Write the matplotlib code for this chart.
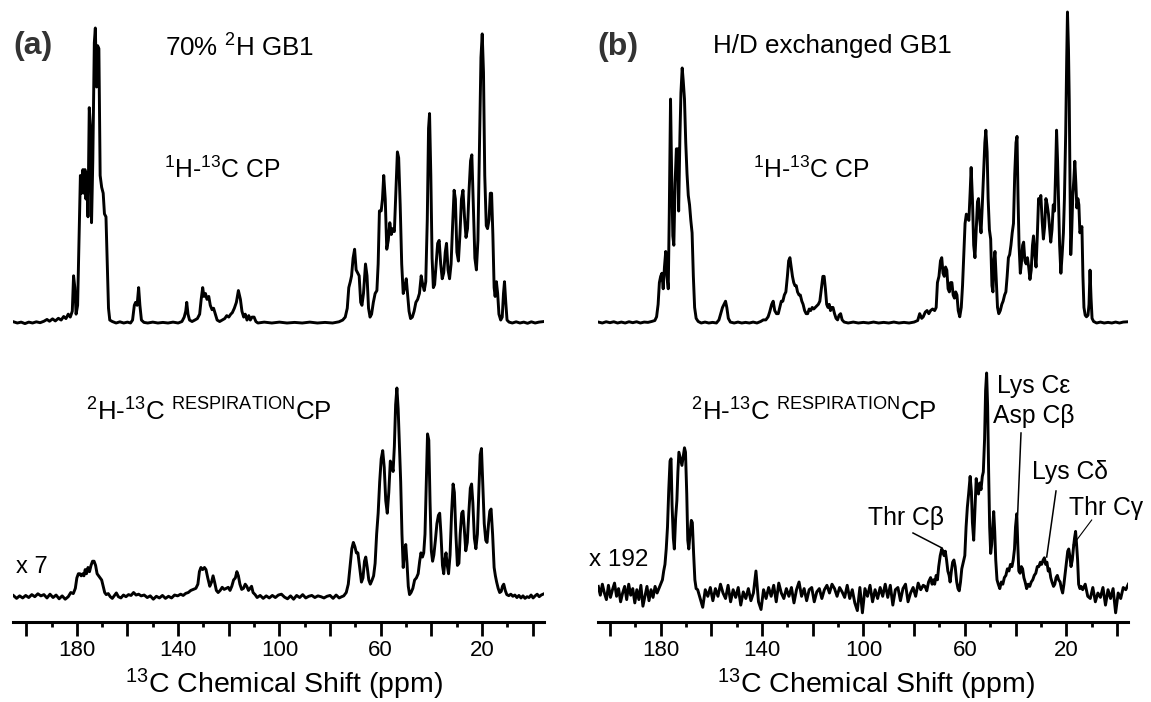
import numpy as np
import matplotlib
matplotlib.use("Agg")
import matplotlib.pyplot as plt
from matplotlib.lines import Line2D
from matplotlib.ticker import FixedLocator, FuncFormatter

# Spectra as (ppm, relative intensity) vertices.
# Intensities are normalised to the tallest peak of each trace.

a_top = [
    (205.0, 0.004), (203.5, 0.0), (202.0, 0.003), (200.5, -0.002), (199.0, 0.003), (197.5, 0.0),
    (196.0, 0.004), (194.5, 0.001), (193.0, 0.006), (191.8, 0.012), (190.8, 0.006), (189.6, 0.014),
    (188.5, 0.007), (187.3, 0.016), (186.2, 0.01), (185.2, 0.022), (184.3, 0.015), (183.4, 0.03),
    (182.6, 0.02), (181.8, 0.04), (181.3, 0.16), (180.8, 0.12), (180.3, 0.03), (179.7, 0.06),
    (179.1, 0.30), (178.6, 0.50), (178.1, 0.44), (177.6, 0.52), (177.2, 0.44), (176.8, 0.52),
    (176.4, 0.42), (176.0, 0.51), (175.6, 0.36), (175.1, 0.73), (174.6, 0.66), (174.2, 0.34),
    (173.7, 0.55), (173.1, 0.95), (172.7, 1.00), (172.2, 0.80), (171.8, 0.94), (171.3, 0.93),
    (170.8, 0.50), (170.2, 0.46), (169.6, 0.44), (169.1, 0.37), (168.5, 0.36), (168.0, 0.20),
    (167.5, 0.05), (167.0, 0.01), (166.0, 0.005), (164.5, 0.0), (163.0, 0.004), (161.5, 0.0),
    (160.0, 0.003), (158.8, 0.0), (158.0, 0.01), (157.3, 0.06), (156.8, 0.07), (156.2, 0.06),
    (155.6, 0.12), (155.1, 0.06), (154.5, 0.01), (153.5, 0.002), (152.0, 0.0), (150.0, 0.003),
    (148.0, 0.0), (146.0, 0.002), (144.0, 0.0), (142.0, 0.003), (140.0, 0.0), (138.5, 0.005),
    (137.6, 0.02), (137.0, 0.04), (136.6, 0.07), (136.1, 0.03), (135.5, 0.01), (134.5, 0.005),
    (133.4, 0.01), (132.4, 0.015), (131.5, 0.03), (130.9, 0.08), (130.3, 0.12), (129.8, 0.09),
    (129.2, 0.10), (128.6, 0.08), (127.9, 0.09), (127.3, 0.06), (126.6, 0.045), (126.0, 0.05),
    (125.3, 0.03), (124.6, 0.01), (123.6, 0.005), (122.6, 0.01), (121.6, 0.015), (120.8, 0.025),
    (120.0, 0.02), (119.2, 0.03), (118.6, 0.035), (117.8, 0.05), (117.0, 0.07), (116.2, 0.11),
    (115.4, 0.08), (114.8, 0.04), (114.1, 0.02), (113.5, 0.03), (112.8, 0.01), (112.1, 0.025),
    (111.5, 0.01), (110.8, 0.02), (110.0, 0.02), (109.3, 0.005), (108.5, 0.0), (106.0, 0.003),
    (103.0, 0.0), (100.0, 0.003), (97.0, 0.0), (94.0, 0.002), (91.0, 0.0), (88.0, 0.003),
    (85.0, 0.0), (82.0, 0.002), (79.0, 0.0), (76.5, 0.004), (75.0, 0.01), (74.0, 0.02),
    (73.2, 0.05), (72.6, 0.12), (72.0, 0.14), (71.5, 0.16), (70.9, 0.22), (70.3, 0.25),
    (69.7, 0.18), (69.1, 0.17), (68.5, 0.16), (67.9, 0.07), (67.4, 0.06), (66.8, 0.10),
    (66.0, 0.20), (65.4, 0.16), (64.8, 0.05), (64.2, 0.02), (63.6, 0.03), (62.9, 0.07),
    (62.2, 0.10), (61.5, 0.11), (61.0, 0.20), (60.5, 0.38), (59.8, 0.38), (59.3, 0.42),
    (58.8, 0.50), (58.2, 0.42), (57.6, 0.25), (57.0, 0.28), (56.4, 0.34), (55.8, 0.30),
    (55.2, 0.32), (54.6, 0.31), (54.0, 0.45), (53.4, 0.58), (52.9, 0.56), (52.3, 0.40),
    (51.7, 0.20), (51.1, 0.10), (50.5, 0.12), (49.9, 0.15), (49.4, 0.10), (48.8, 0.04),
    (48.2, 0.015), (47.5, 0.02), (46.8, 0.04), (46.1, 0.07), (45.4, 0.08), (44.7, 0.10),
    (44.0, 0.16), (43.4, 0.13), (42.8, 0.11), (42.2, 0.14), (41.6, 0.35), (41.1, 0.66),
    (40.7, 0.71), (40.2, 0.50), (39.7, 0.22), (39.2, 0.12), (38.7, 0.13), (38.1, 0.20),
    (37.5, 0.27), (36.9, 0.28), (36.3, 0.20), (35.7, 0.15), (35.1, 0.17), (34.5, 0.24),
    (34.0, 0.27), (33.4, 0.18), (32.8, 0.15), (32.2, 0.20), (31.6, 0.33), (31.0, 0.45),
    (30.5, 0.42), (29.9, 0.24), (29.3, 0.21), (28.7, 0.30), (28.1, 0.42), (27.5, 0.45),
    (26.9, 0.36), (26.3, 0.29), (25.7, 0.32), (25.1, 0.45), (24.5, 0.55), (24.0, 0.57),
    (23.4, 0.40), (22.8, 0.22), (22.2, 0.18), (21.6, 0.28), (21.0, 0.60), (20.4, 0.90),
    (19.9, 0.98), (19.4, 0.85), (18.9, 0.50), (18.3, 0.33), (17.8, 0.32), (17.2, 0.35),
    (16.7, 0.44), (16.2, 0.44), (15.7, 0.30), (15.2, 0.12), (14.8, 0.09), (14.3, 0.14),
    (13.8, 0.10), (13.3, 0.03), (12.6, 0.01), (12.0, 0.02), (11.5, 0.10), (11.1, 0.14),
    (10.6, 0.07), (10.1, 0.01), (9.3, 0.003), (8.0, 0.0), (6.5, 0.004), (5.0, 0.0),
    (3.5, 0.003), (2.0, -0.001), (0.5, 0.004), (-1.0, 0.0), (-2.5, 0.003), (-4.5, 0.005),
]

a_bottom = [
    (205.0, 0.005), (203.8, -0.008), (202.6, 0.004), (201.4, -0.006), (200.2, 0.006), (199.0, -0.004),
    (197.8, 0.01), (196.6, 0.0), (195.4, 0.014), (194.2, 0.004), (193.0, 0.01), (191.8, -0.006),
    (190.6, 0.012), (189.4, -0.004), (188.2, 0.008), (187.0, -0.01), (185.8, 0.004), (184.6, -0.012),
    (183.4, 0.0), (182.4, 0.02), (181.4, 0.015), (180.6, 0.04), (180.0, 0.09), (179.4, 0.11),
    (178.8, 0.11), (178.3, 0.10), (177.7, 0.11), (177.2, 0.10), (176.7, 0.13), (176.2, 0.11),
    (175.6, 0.14), (175.0, 0.12), (174.4, 0.15), (173.8, 0.17), (173.2, 0.17), (172.6, 0.15),
    (172.0, 0.11), (171.4, 0.10), (170.8, 0.09), (170.2, 0.08), (169.6, 0.05), (169.0, 0.02),
    (168.4, 0.01), (167.6, 0.015), (166.8, 0.0), (166.0, -0.008), (165.2, 0.005), (164.4, 0.018),
    (163.6, 0.0), (162.6, -0.006), (161.6, 0.008), (160.6, 0.0), (159.6, 0.01), (158.6, 0.006),
    (157.6, 0.02), (156.6, 0.008), (155.6, 0.012), (154.6, 0.004), (153.4, 0.008), (152.2, -0.004),
    (151.0, 0.004), (149.8, -0.012), (148.6, 0.002), (147.4, -0.006), (146.2, 0.006), (145.0, -0.008),
    (143.8, 0.002), (142.6, -0.006), (141.4, 0.008), (140.2, 0.004), (139.0, 0.012), (138.0, 0.006),
    (137.0, 0.016), (136.0, 0.02), (135.0, 0.03), (134.0, 0.035), (133.0, 0.04), (132.2, 0.06),
    (131.6, 0.12), (131.0, 0.14), (130.3, 0.13), (129.6, 0.14), (129.0, 0.13), (128.3, 0.09),
    (127.5, 0.05), (126.8, 0.07), (126.2, 0.10), (125.6, 0.07), (124.9, 0.03), (124.2, 0.02),
    (123.4, 0.03), (122.6, 0.045), (121.8, 0.035), (121.0, 0.04), (120.2, 0.045), (119.5, 0.03),
    (118.8, 0.05), (118.1, 0.08), (117.4, 0.09), (116.8, 0.12), (116.2, 0.10), (115.6, 0.06),
    (114.9, 0.035), (114.2, 0.04), (113.5, 0.06), (112.9, 0.05), (112.2, 0.03), (111.6, 0.04),
    (111.0, 0.05), (110.4, 0.02), (109.6, 0.01), (108.8, -0.004), (107.6, 0.006), (106.4, -0.008),
    (105.2, 0.004), (104.0, -0.006), (102.8, 0.006), (101.6, -0.004), (100.4, 0.008), (99.2, 0.012),
    (98.0, -0.002), (96.8, -0.01), (95.6, 0.004), (94.4, -0.012), (93.2, 0.006), (92.0, -0.004),
    (90.8, 0.01), (89.6, -0.006), (88.4, 0.002), (87.2, 0.006), (86.0, -0.004), (84.8, 0.004),
    (83.6, 0.0), (82.4, -0.006), (81.2, 0.002), (80.0, 0.006), (78.8, -0.008), (77.6, 0.008),
    (76.4, -0.006), (75.4, 0.0), (74.6, 0.004), (73.6, 0.02), (72.8, 0.06), (72.0, 0.16),
    (71.4, 0.23), (70.8, 0.26), (70.2, 0.24), (69.6, 0.21), (69.0, 0.21), (68.3, 0.14),
    (67.6, 0.07), (67.0, 0.09), (66.4, 0.17), (65.9, 0.19), (65.3, 0.14), (64.7, 0.08),
    (64.1, 0.06), (63.4, 0.08), (62.8, 0.10), (62.2, 0.16), (61.6, 0.30), (61.0, 0.40),
    (60.4, 0.55), (59.8, 0.66), (59.2, 0.70), (58.6, 0.62), (58.0, 0.46), (57.4, 0.40),
    (56.8, 0.50), (56.2, 0.65), (55.6, 0.63), (55.1, 0.60), (54.6, 0.72), (54.1, 0.92),
    (53.6, 1.00), (53.1, 0.90), (52.6, 0.72), (52.1, 0.55), (51.6, 0.30), (51.1, 0.14),
    (50.6, 0.22), (50.1, 0.25), (49.6, 0.16), (49.1, 0.05), (48.6, 0.01), (48.0, 0.02),
    (47.3, 0.04), (46.6, 0.08), (45.9, 0.09), (45.2, 0.11), (44.6, 0.17), (44.1, 0.21),
    (43.5, 0.19), (43.0, 0.21), (42.5, 0.30), (42.0, 0.55), (41.5, 0.78), (41.0, 0.75),
    (40.5, 0.45), (40.0, 0.22), (39.5, 0.17), (39.0, 0.20), (38.4, 0.27), (37.8, 0.35),
    (37.2, 0.39), (36.7, 0.40), (36.2, 0.30), (35.6, 0.15), (35.1, 0.11), (34.6, 0.18),
    (34.2, 0.21), (33.7, 0.15), (33.2, 0.11), (32.6, 0.20), (32.0, 0.40), (31.4, 0.54),
    (30.9, 0.50), (30.3, 0.30), (29.7, 0.15), (29.1, 0.16), (28.6, 0.30), (28.0, 0.40),
    (27.5, 0.41), (27.0, 0.33), (26.4, 0.22), (25.8, 0.26), (25.2, 0.40), (24.6, 0.52),
    (24.1, 0.54), (23.6, 0.45), (23.0, 0.28), (22.4, 0.23), (21.8, 0.30), (21.2, 0.52),
    (20.7, 0.68), (20.2, 0.71), (19.7, 0.55), (19.1, 0.35), (18.5, 0.27), (18.0, 0.26),
    (17.4, 0.35), (16.9, 0.41), (16.4, 0.42), (15.8, 0.30), (15.2, 0.14), (14.7, 0.10),
    (14.2, 0.07), (13.6, 0.04), (13.0, 0.02), (12.4, 0.025), (11.9, 0.05), (11.4, 0.06),
    (10.8, 0.03), (10.2, 0.01), (9.4, 0.005), (8.6, 0.012), (7.8, 0.002), (7.0, 0.008),
    (6.2, -0.004), (5.4, 0.006), (4.6, -0.006), (3.8, 0.004), (3.0, -0.008), (2.2, 0.0),
    (1.4, -0.004), (0.6, 0.008), (-0.2, -0.006), (-1.0, 0.004), (-1.8, 0.012), (-2.6, 0.0),
    (-3.4, 0.008), (-4.5, 0.014),
]

b_top = [
    (204.6, 0.003), (203.0, 0.0), (201.5, 0.004), (200.0, 0.001), (198.5, 0.004), (197.0, 0.0),
    (195.5, 0.003), (194.0, 0.0), (192.5, 0.004), (191.0, 0.001), (189.5, 0.004), (188.0, 0.0),
    (186.5, 0.003), (185.0, 0.002), (183.5, 0.005), (182.3, 0.008), (181.6, 0.02), (181.0, 0.06),
    (180.5, 0.13), (180.0, 0.15), (179.5, 0.16), (179.0, 0.11), (178.5, 0.18), (178.0, 0.23),
    (177.5, 0.15), (177.0, 0.11), (176.6, 0.35), (176.1, 0.72), (175.7, 0.50), (175.2, 0.28),
    (174.8, 0.25), (174.3, 0.45), (173.8, 0.56), (173.3, 0.56), (172.9, 0.36), (172.4, 0.60),
    (172.0, 0.74), (171.5, 0.82), (171.1, 0.78), (170.6, 0.72), (170.1, 0.58), (169.6, 0.48),
    (169.1, 0.41), (168.6, 0.38), (168.1, 0.33), (167.6, 0.29), (167.1, 0.15), (166.6, 0.05),
    (166.0, 0.015), (165.2, 0.005), (164.0, 0.0), (162.5, 0.003), (161.0, 0.0), (159.5, 0.002),
    (158.0, 0.0), (157.0, 0.01), (156.3, 0.03), (155.6, 0.05), (155.0, 0.06), (154.4, 0.07),
    (153.9, 0.05), (153.3, 0.015), (152.5, 0.003), (151.0, 0.0), (149.5, 0.003), (148.0, 0.0),
    (146.5, 0.002), (145.0, 0.0), (143.5, 0.003), (142.0, 0.0), (140.5, 0.005), (139.5, 0.01),
    (138.5, 0.01), (137.6, 0.02), (137.0, 0.035), (136.2, 0.06), (135.6, 0.07), (135.0, 0.04),
    (134.3, 0.03), (133.6, 0.03), (133.0, 0.05), (132.4, 0.07), (131.8, 0.07), (131.2, 0.09),
    (130.6, 0.10), (130.0, 0.15), (129.5, 0.20), (129.0, 0.21), (128.5, 0.18), (128.0, 0.15),
    (127.5, 0.13), (127.0, 0.12), (126.5, 0.12), (126.0, 0.10), (125.4, 0.09), (124.9, 0.09),
    (124.3, 0.07), (123.8, 0.06), (123.2, 0.04), (122.6, 0.03), (122.0, 0.03), (121.4, 0.045),
    (120.8, 0.04), (120.2, 0.05), (119.6, 0.045), (119.0, 0.05), (118.4, 0.055), (117.8, 0.06),
    (117.2, 0.07), (116.6, 0.11), (116.0, 0.15), (115.5, 0.15), (115.0, 0.11), (114.5, 0.06),
    (114.0, 0.05), (113.5, 0.06), (113.0, 0.04), (112.5, 0.05), (112.0, 0.05), (111.4, 0.03),
    (110.8, 0.015), (110.2, 0.01), (109.6, 0.025), (109.0, 0.03), (108.4, 0.01), (107.6, 0.003),
    (106.0, 0.0), (104.0, 0.003), (102.0, 0.0), (100.0, 0.002), (98.0, 0.0), (96.0, 0.003),
    (94.0, 0.0), (92.0, 0.002), (90.0, 0.0), (88.0, 0.003), (86.0, 0.0), (84.0, 0.002),
    (82.0, 0.0), (80.0, 0.003), (78.6, 0.008), (77.8, 0.03), (77.0, 0.015), (76.4, 0.02),
    (75.6, 0.035), (74.9, 0.04), (74.2, 0.03), (73.5, 0.04), (72.7, 0.045), (71.9, 0.04),
    (71.3, 0.05), (70.8, 0.13), (70.2, 0.15), (69.6, 0.20), (69.1, 0.21), (68.6, 0.16),
    (68.1, 0.15), (67.6, 0.18), (67.1, 0.17), (66.6, 0.11), (66.1, 0.10), (65.6, 0.13),
    (65.1, 0.13), (64.6, 0.09), (64.1, 0.08), (63.6, 0.10), (63.1, 0.09), (62.6, 0.04),
    (62.0, 0.02), (61.4, 0.05), (60.9, 0.12), (60.4, 0.22), (59.9, 0.32), (59.4, 0.35),
    (58.9, 0.34), (58.4, 0.33), (57.9, 0.42), (57.5, 0.50), (57.0, 0.40), (56.5, 0.25),
    (56.0, 0.21), (55.5, 0.30), (55.0, 0.39), (54.6, 0.40), (54.1, 0.33), (53.6, 0.29),
    (53.1, 0.38), (52.6, 0.48), (52.1, 0.58), (51.7, 0.62), (51.2, 0.55), (50.8, 0.40),
    (50.3, 0.30), (49.8, 0.27), (49.3, 0.12), (48.9, 0.10), (48.5, 0.20), (48.1, 0.23),
    (47.6, 0.14), (47.1, 0.05), (46.6, 0.03), (46.0, 0.04), (45.4, 0.06), (44.9, 0.07),
    (44.3, 0.09), (43.8, 0.10), (43.3, 0.15), (42.8, 0.21), (42.3, 0.22), (41.8, 0.25),
    (41.3, 0.29), (40.8, 0.32), (40.3, 0.48), (39.8, 0.58), (39.4, 0.60), (39.0, 0.40),
    (38.6, 0.25), (38.1, 0.16), (37.7, 0.19), (37.2, 0.25), (36.8, 0.26), (36.3, 0.20),
    (35.8, 0.19), (35.3, 0.21), (34.8, 0.18), (34.3, 0.14), (33.8, 0.17), (33.3, 0.25),
    (32.9, 0.28), (32.4, 0.22), (31.9, 0.18), (31.4, 0.28), (30.9, 0.40), (30.5, 0.39),
    (30.0, 0.41), (29.5, 0.33), (29.0, 0.27), (28.5, 0.31), (28.0, 0.40), (27.5, 0.38),
    (27.0, 0.35), (26.5, 0.30), (26.1, 0.26), (25.6, 0.30), (25.1, 0.38), (24.6, 0.36),
    (24.2, 0.48), (23.8, 0.62), (23.4, 0.52), (23.0, 0.38), (22.6, 0.25), (22.1, 0.16),
    (21.6, 0.22), (21.1, 0.29), (20.7, 0.40), (20.2, 0.61), (19.8, 0.85), (19.5, 1.00),
    (19.1, 0.88), (18.8, 0.72), (18.5, 0.45), (18.2, 0.22), (17.8, 0.30), (17.4, 0.41),
    (17.0, 0.46), (16.6, 0.52), (16.2, 0.45), (15.8, 0.37), (15.4, 0.40), (15.0, 0.38),
    (14.6, 0.29), (14.2, 0.30), (13.8, 0.31), (13.4, 0.15), (13.0, 0.05), (12.5, 0.025),
    (12.0, 0.02), (11.4, 0.025), (11.0, 0.06), (10.6, 0.17), (10.2, 0.08), (9.8, 0.015),
    (9.2, 0.005), (8.0, 0.0), (6.5, 0.003), (5.0, 0.0), (3.5, 0.002), (2.0, 0.0),
    (0.5, 0.003), (-1.0, 0.0), (-2.5, 0.003), (-4.5, 0.004),
]

# H/D exchanged sample, 2H-13C transfer: noisy baseline read as typed wiggles
b_bottom_noise_left = [0.03, -0.01, 0.04, 0.0, -0.03, 0.035, -0.02, 0.015, 0.045, -0.015,
                       0.02, -0.04, 0.0, 0.03, -0.03, 0.04, -0.01, 0.02, -0.045, 0.015,
                       -0.03, 0.035, -0.06, -0.015, 0.03, -0.035, 0.015, -0.02, 0.03, 0.0]
b_bottom_carbonyl = [
    (180.7, 0.02), (180.0, 0.04), (179.3, 0.06), (178.8, 0.10), (178.3, 0.13), (177.8, 0.20),
    (177.3, 0.30), (176.8, 0.47), (176.3, 0.60), (175.9, 0.61), (175.5, 0.40), (175.0, 0.25),
    (174.6, 0.20), (174.1, 0.34), (173.6, 0.42), (173.2, 0.55), (172.8, 0.64), (172.4, 0.62),
    (172.0, 0.60), (171.6, 0.58), (171.1, 0.62), (170.6, 0.66), (170.2, 0.64), (169.7, 0.45),
    (169.3, 0.24), (168.9, 0.20), (168.4, 0.27), (167.9, 0.33), (167.5, 0.32), (167.0, 0.18),
    (166.5, 0.06), (166.0, 0.02),
]
b_bottom_noise_mid = [0.015, -0.025, -0.065, 0.015, -0.015, 0.025, -0.035, 0.02, -0.015, 0.04,
                      0.0, -0.025, 0.035, -0.04, 0.015, -0.02, 0.025, -0.055, 0.005, -0.025,
                      0.02, -0.035, 0.0, 0.10, -0.04, -0.075, 0.015, -0.025, 0.025, -0.015,
                      0.035, -0.04, 0.045, 0.0, -0.025, 0.02, -0.015, 0.025, -0.045, 0.015,
                      0.05, -0.015, 0.02, -0.035, 0.015, 0.025, -0.04, 0.005, 0.02, -0.025,
                      0.015, 0.035, 0.0, 0.04, 0.02, -0.015, 0.025, 0.005, -0.02, 0.035,
                      -0.025, 0.015, -0.045, -0.08, 0.025, -0.09, 0.02, -0.015, 0.035, -0.04,
                      0.015, -0.025, 0.025, -0.015, 0.04, -0.02, 0.035, -0.055, 0.015, 0.025,
                      -0.035, 0.02, 0.04, -0.04, 0.0, 0.025, -0.015, 0.045, 0.015, 0.035]
b_bottom_aliphatic = [
    (75.7, 0.03), (75.0, 0.01), (74.3, 0.05), (73.5, 0.07), (72.9, 0.04), (72.4, 0.06),
    (71.9, 0.04), (71.3, 0.08), (70.8, 0.06), (70.3, 0.12), (69.7, 0.17), (69.1, 0.20),
    (68.6, 0.19), (68.2, 0.17), (67.7, 0.19), (67.2, 0.15), (66.7, 0.10), (66.2, 0.08),
    (65.8, 0.05), (65.3, 0.10), (64.8, 0.14), (64.3, 0.15), (63.8, 0.12), (63.2, 0.05),
    (62.7, 0.02), (62.2, 0.01), (61.7, 0.05), (61.2, 0.11), (60.6, 0.14), (60.0, 0.17),
    (59.5, 0.30), (59.0, 0.39), (58.5, 0.45), (57.9, 0.53), (57.4, 0.46), (57.0, 0.32),
    (56.5, 0.24), (56.0, 0.38), (55.5, 0.52), (55.0, 0.47), (54.6, 0.45), (54.1, 0.50),
    (53.6, 0.47), (53.1, 0.53), (52.7, 0.55), (52.2, 0.70), (51.8, 0.92), (51.4, 1.00),
    (51.0, 0.85), (50.6, 0.55), (50.2, 0.30), (49.8, 0.18), (49.4, 0.22), (49.0, 0.30),
    (48.6, 0.37), (48.2, 0.28), (47.8, 0.15), (47.3, 0.06), (46.8, 0.04), (46.2, 0.02),
    (45.6, 0.05), (45.0, 0.04), (44.4, 0.07), (43.8, 0.08), (43.2, 0.11), (42.6, 0.10),
    (42.0, 0.13), (41.4, 0.12), (40.9, 0.15), (40.4, 0.20), (40.0, 0.30), (39.5, 0.36),
    (39.1, 0.22), (38.7, 0.10), (38.2, 0.09), (37.7, 0.12), (37.2, 0.11), (36.7, 0.07),
    (36.2, 0.05), (35.6, 0.02), (35.0, 0.04), (34.4, 0.03), (33.8, 0.05), (33.2, 0.06),
    (32.6, 0.08), (32.0, 0.09), (31.4, 0.12), (30.8, 0.12), (30.2, 0.14), (29.7, 0.13),
    (29.1, 0.15), (28.6, 0.16), (28.1, 0.13), (27.6, 0.14), (27.1, 0.10), (26.6, 0.11),
    (26.1, 0.07), (25.6, 0.05), (25.0, 0.03), (24.5, 0.04), (24.0, 0.07), (23.5, 0.08),
    (23.0, 0.06), (22.4, 0.05), (21.9, 0.02), (21.4, 0.0), (20.9, 0.04), (20.4, 0.09),
    (19.9, 0.14), (19.4, 0.19), (19.0, 0.20), (18.6, 0.17), (18.1, 0.12), (17.6, 0.15),
    (17.1, 0.21), (16.7, 0.25), (16.3, 0.28), (15.9, 0.22), (15.5, 0.15), (15.1, 0.04),
    (14.6, 0.02), (14.1, 0.03),
]
b_bottom_noise_right = [0.015, 0.04, -0.015, -0.025, 0.025, -0.04, 0.0, -0.02, 0.025, -0.055,
                        0.015, -0.025, 0.02, -0.09, 0.0, -0.025, 0.025, 0.015, 0.04]

major_ticks = [200, 180, 160, 140, 120, 100, 80, 60, 40, 20, 0]
labelled_ticks = [180, 140, 100, 60, 20]
minor_ticks = [190, 170, 150, 130, 110, 90, 70, 50, 30, 10]

# ---------------------------------------------------------------------------

plt.rcParams["font.family"] = ["Liberation Sans", "DejaVu Sans"]
plt.rcParams["mathtext.fontset"] = "custom"
plt.rcParams["mathtext.rm"] = "Liberation Sans"
plt.rcParams["mathtext.it"] = "Liberation Sans"
plt.rcParams["mathtext.default"] = "regular"

W, H = 1151, 702
AXIS_Y = 621.7  # pixel row of the ppm axis line


def split(points):
    return np.array([p[0] for p in points]), np.array([p[1] for p in points])


def build_b_bottom():
    c_ppm, c_val = split(b_bottom_carbonyl)
    a_ppm, a_val = split(b_bottom_aliphatic)
    ppm = np.concatenate([
        np.linspace(204.6, 181.4, len(b_bottom_noise_left)), c_ppm,
        np.linspace(165.4, 76.4, len(b_bottom_noise_mid)), a_ppm,
        np.linspace(13.5, -4.5, len(b_bottom_noise_right)),
    ])
    val = np.concatenate([b_bottom_noise_left, c_val, b_bottom_noise_mid, a_val,
                          b_bottom_noise_right])
    return ppm, val


def px_text(fig, x, y, s, **kw):
    fig.text(x / W, 1 - y / H, s, va="baseline", **kw)


def px_line(fig, x1, y1, x2, y2, lw=1.1):
    fig.add_artist(Line2D([x1 / W, x2 / W], [1 - y1 / H, 1 - y2 / H],
                          transform=fig.transFigure, color="black", lw=lw))


def style_axis(ax, xlim):
    ax.set_xlim(*xlim)
    ax.set_ylim(0, AXIS_Y)
    for side in ("left", "right", "top"):
        ax.spines[side].set_visible(False)
    ax.spines["bottom"].set_linewidth(2.2)
    ax.set_yticks([])
    ax.xaxis.set_major_locator(FixedLocator(major_ticks))
    ax.xaxis.set_minor_locator(FixedLocator(minor_ticks))
    ax.xaxis.set_major_formatter(FuncFormatter(
        lambda v, pos: str(int(round(v))) if int(round(v)) in labelled_ticks else ""))
    ax.tick_params(axis="x", which="major", direction="out", length=10, width=2.0,
                   labelsize=16, pad=3)
    ax.tick_params(axis="x", which="minor", direction="out", length=3.8, width=2.0)
    ax.patch.set_alpha(0)


fig = plt.figure(figsize=(W / 100, H / 100), dpi=100)
ax_a = fig.add_axes([13.3 / W, (H - AXIS_Y) / H, 530.7 / W, AXIS_Y / H])
ax_b = fig.add_axes([598.3 / W, (H - AXIS_Y) / H, 530.0 / W, AXIS_Y / H])
style_axis(ax_a, (205.1, -4.5))
style_axis(ax_b, (204.6, -4.5))

line_kw = dict(color="black", lw=2.1, solid_joinstyle="round")

# panel (a): baseline offset and height of each trace, in pixels above the axis line
x, y = split(a_top)
ax_a.plot(x, (AXIS_Y - 323) + 295 * y, **line_kw)
x, y = split(a_bottom)
ax_a.plot(x, (AXIS_Y - 596.7) + 208.7 * y, **line_kw)

# panel (b)
x, y = split(b_top)
ax_b.plot(x, (AXIS_Y - 323) + 311 * y, **line_kw)
x, y = build_b_bottom()
ax_b.plot(x, (AXIS_Y - 593) + 220 * y, **line_kw)

# axis titles
px_text(fig, 284, 693, "$^{13}$C Chemical Shift (ppm)", fontsize=20.5, ha="center")
px_text(fig, 876, 693, "$^{13}$C Chemical Shift (ppm)", fontsize=20.5, ha="center")

# labels
px_text(fig, 13, 54, "(a)", fontsize=23, fontweight="bold", color="#333333")
px_text(fig, 597, 54.5, "(b)", fontsize=23, fontweight="bold", color="#333333")
px_text(fig, 165, 56.5, "70% $^{2}$H GB1", fontsize=18.7)
px_text(fig, 713, 53.5, "H/D exchanged GB1", fontsize=18.7)
px_text(fig, 164, 178, "$^{1}$H-$^{13}$C CP", fontsize=17.8)
px_text(fig, 753, 178, "$^{1}$H-$^{13}$C CP", fontsize=17.8)
px_text(fig, 86, 421, "$^{2}$H-$^{13}$C $^{RESPIRATION}$CP", fontsize=18.6)
px_text(fig, 691, 421, "$^{2}$H-$^{13}$C $^{RESPIRATION}$CP", fontsize=18.6)
px_text(fig, 16, 573, "x 7", fontsize=17)
px_text(fig, 589, 566, "x 192", fontsize=17.5)

# peak assignments in panel (b)
px_text(fig, 868, 525, "Thr C\u03b2", fontsize=17.8)
px_text(fig, 997, 392.5, "Lys C\u03b5", fontsize=17.8)
px_text(fig, 993, 423, "Asp C\u03b2", fontsize=17.8)
px_text(fig, 1032, 479, "Lys C\u03b4", fontsize=17.8)
px_text(fig, 1069, 515, "Thr C\u03b3", fontsize=17.8)
px_line(fig, 913, 533, 942, 548)
px_line(fig, 1021, 433, 1017.7, 513)
px_line(fig, 1056, 491, 1046.7, 557)
px_line(fig, 1091.7, 520, 1073, 545, lw=0.8)

fig.savefig("out.png", dpi=100)
